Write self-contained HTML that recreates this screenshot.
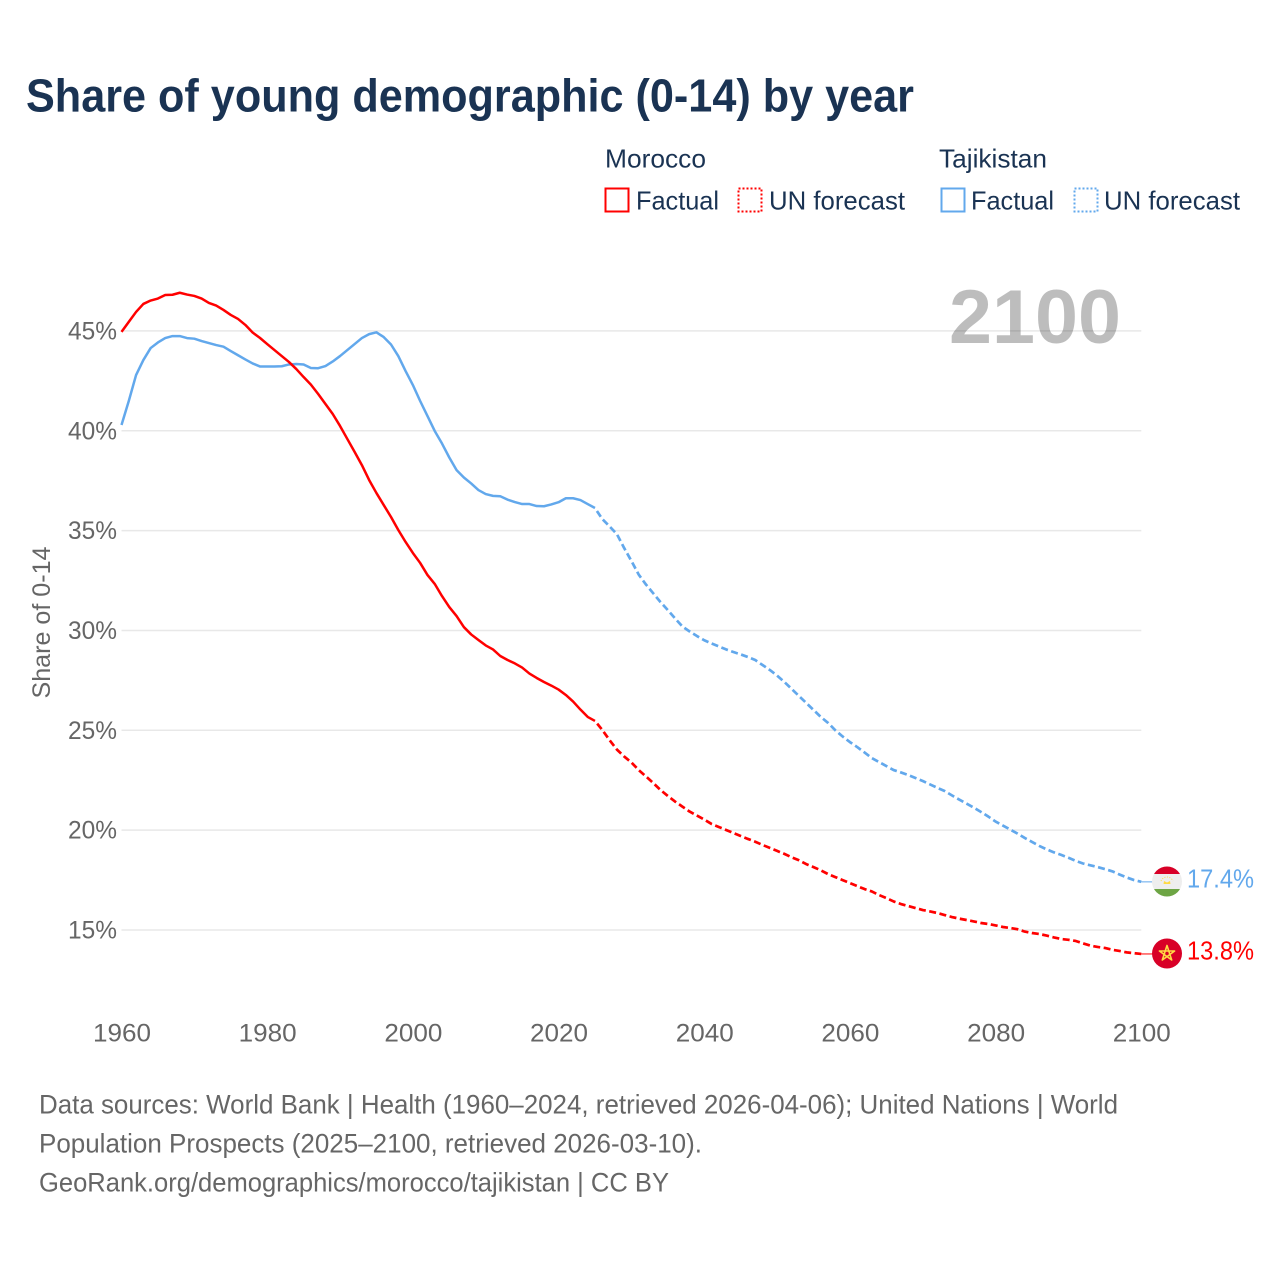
<!DOCTYPE html>
<html lang="en">
<head>
<meta charset="utf-8">
<title>Share of young demographic (0-14) by year</title>
<style>
  html, body { margin: 0; padding: 0; background: #fff; }
  svg { display: block; font-family: "Liberation Sans", sans-serif; }
</style>
</head>
<body>
<svg id="chart" xmlns="http://www.w3.org/2000/svg" width="1280" height="1280" viewBox="0 0 1280 1280">
  <rect x="0" y="0" width="1280" height="1280" fill="#fff"/>
  <text x="26" y="111.5" font-size="46" font-weight="700" fill="#1a3353" textLength="888" lengthAdjust="spacingAndGlyphs">Share of young demographic (0-14) by year</text>

  <g font-size="26" fill="#1a3353">
    <text x="605" y="167.5" textLength="101" lengthAdjust="spacingAndGlyphs">Morocco</text>
    <text x="939" y="167.5" textLength="108" lengthAdjust="spacingAndGlyphs">Tajikistan</text>
    <rect x="605.5" y="188.5" width="23" height="23" fill="none" stroke="#ff0000" stroke-width="2"/>
    <text x="636" y="209.5" textLength="83" lengthAdjust="spacingAndGlyphs">Factual</text>
    <rect x="738.5" y="188.5" width="23" height="23" fill="none" stroke="#ff0000" stroke-width="2" stroke-dasharray="2 2"/>
    <text x="769" y="209.5" textLength="136" lengthAdjust="spacingAndGlyphs">UN forecast</text>
    <rect x="941.5" y="188.5" width="23" height="23" fill="none" stroke="#62a8ec" stroke-width="2"/>
    <text x="971" y="209.5" textLength="83" lengthAdjust="spacingAndGlyphs">Factual</text>
    <rect x="1074.5" y="188.5" width="23" height="23" fill="none" stroke="#62a8ec" stroke-width="2" stroke-dasharray="2 2"/>
    <text x="1104" y="209.5" textLength="136" lengthAdjust="spacingAndGlyphs">UN forecast</text>
  </g>

  <g id="grid"></g>
  <g id="y-ticks" font-size="25" fill="#666"></g>
  <g id="x-ticks" font-size="25" fill="#666"></g>
  <text transform="translate(50,698.5) rotate(-90)" x="0" y="0" font-size="25" fill="#666" textLength="152" lengthAdjust="spacingAndGlyphs">Share of 0-14</text>

  <text x="949" y="343" font-size="76" font-weight="700" fill="#000" fill-opacity="0.26" textLength="172" lengthAdjust="spacingAndGlyphs">2100</text>

  <g id="series"></g>

  <g>
    <clipPath id="clip-tj"><circle cx="1167" cy="881.5" r="15"/></clipPath>
    <g clip-path="url(#clip-tj)">
      <rect x="1150" y="865" width="34" height="34" fill="#eeeeee"/>
      <rect x="1150" y="865" width="34" height="9" fill="#d80027"/>
      <rect x="1150" y="889" width="34" height="10" fill="#6da544"/>
      <path d="M1163.5 884 L1164 881 L1167 882.5 L1170 881 L1170.5 884 Z" fill="#ffda44"/>
      <path d="M1161 881 A6.5 6.5 0 0 1 1173 881" fill="none" stroke="#ffda44" stroke-width="1" stroke-dasharray="1 1.5"/>
    </g>
  </g>
  <g>
    <circle cx="1167" cy="953.5" r="15" fill="#d80027"/>
    <path d="M1167 945.5 L1171.7 960 L1159.4 951 L1174.6 951 L1162.3 960 Z" fill="none" stroke="#ffda44" stroke-width="1.6" stroke-linejoin="round"/>
  </g>

  <text x="1187" y="887.5" font-size="25.5" fill="#62a8ec" textLength="67" lengthAdjust="spacingAndGlyphs">17.4%</text>
  <text x="1187" y="959.5" font-size="25.5" fill="#ff0000" textLength="67" lengthAdjust="spacingAndGlyphs">13.8%</text>

  <g font-size="26.5" fill="#666">
    <text x="39" y="1113.5" textLength="1079" lengthAdjust="spacingAndGlyphs">Data sources: World Bank | Health (1960–2024, retrieved 2026-04-06); United Nations | World</text>
    <text x="39" y="1152.5" textLength="663" lengthAdjust="spacingAndGlyphs">Population Prospects (2025–2100, retrieved 2026-03-10).</text>
    <text x="39" y="1191.5" textLength="630" lengthAdjust="spacingAndGlyphs">GeoRank.org/demographics/morocco/tajikistan | CC BY</text>
  </g>
</svg>

<script>
const xTickYears = [1960, 1980, 2000, 2020, 2040, 2060, 2080, 2100];
const yTickValues = [15, 20, 25, 30, 35, 40, 45];

const factualStartYear = 1960;
const forecastStartYear = 2025;

const moroccoFactual = [
  44.95,45.45,45.95,46.35,46.52,46.62,46.80,46.81,46.91,46.82,
  46.75,46.62,46.40,46.27,46.05,45.80,45.60,45.30,44.92,44.65,
  44.34,44.04,43.74,43.44,43.09,42.69,42.31,41.84,41.34,40.84,
  40.24,39.59,38.94,38.28,37.53,36.88,36.28,35.68,35.03,34.43,
  33.88,33.38,32.78,32.33,31.72,31.17,30.72,30.17,29.80,29.52,
  29.25,29.05,28.72,28.52,28.35,28.14,27.84,27.62,27.42,27.24,
  27.04,26.77,26.44,26.04,25.67,25.47
];
const moroccoForecast = [
  25.47,25.02,24.51,24.04,23.69,23.39,23.01,22.69,22.36,22.01,
  21.71,21.43,21.18,20.93,20.73,20.53,20.31,20.16,20.01,19.86,
  19.71,19.56,19.42,19.26,19.11,18.96,18.81,18.64,18.49,18.30,
  18.15,17.99,17.80,17.65,17.50,17.35,17.20,17.05,16.93,16.75,
  16.60,16.43,16.30,16.20,16.10,16.00,15.93,15.85,15.75,15.65,
  15.57,15.50,15.43,15.35,15.30,15.23,15.15,15.10,15.04,14.92,
  14.85,14.80,14.72,14.63,14.55,14.51,14.45,14.33,14.22,14.15,
  14.10,14.01,13.95,13.88,13.84,13.80
];
const tajikistanFactual = [
  40.29,41.49,42.79,43.54,44.14,44.42,44.64,44.74,44.74,44.64,
  44.61,44.49,44.39,44.29,44.21,43.99,43.78,43.57,43.37,43.22,
  43.22,43.22,43.23,43.32,43.34,43.32,43.14,43.13,43.24,43.47,
  43.74,44.04,44.34,44.64,44.84,44.93,44.69,44.32,43.74,42.99,
  42.29,41.49,40.74,39.99,39.36,38.66,38.03,37.66,37.36,37.03,
  36.83,36.74,36.72,36.55,36.43,36.33,36.33,36.23,36.22,36.31,
  36.42,36.62,36.62,36.53,36.33,36.13
];
const tajikistanForecast = [
  36.13,35.58,35.21,34.83,34.13,33.48,32.80,32.30,31.86,31.42,
  31.02,30.60,30.20,29.95,29.72,29.51,29.35,29.20,29.05,28.92,
  28.80,28.67,28.52,28.27,28.02,27.74,27.42,27.07,26.72,26.37,
  26.02,25.67,25.37,25.00,24.69,24.41,24.16,23.89,23.61,23.41,
  23.21,23.01,22.89,22.76,22.61,22.46,22.29,22.12,21.96,21.74,
  21.53,21.33,21.13,20.91,20.68,20.43,20.23,20.03,19.83,19.61,
  19.41,19.21,19.04,18.89,18.76,18.62,18.46,18.33,18.24,18.15,
  18.05,17.94,17.78,17.63,17.50,17.41
];

const NS = 'http://www.w3.org/2000/svg';
function xScale(year) { return 121.5 + (year - 1960) * (1141.3 - 121.5) / 140; }
function yScale(value) { return 930 - (value - 15) * 19.97; }

const gridGroup = document.getElementById('grid');
const yTickGroup = document.getElementById('y-ticks');
const xTickGroup = document.getElementById('x-ticks');
const seriesGroup = document.getElementById('series');

yTickValues.forEach(function (v) {
  const line = document.createElementNS(NS, 'line');
  
  
  line.setAttribute('x1', xScale(1960));
  line.setAttribute('x2', xScale(2100));
  line.setAttribute('y1', yScale(v));
  line.setAttribute('y2', yScale(v));
  line.setAttribute('stroke', '#e8e8e8');
  line.setAttribute('stroke-width', '1.5');
  gridGroup.appendChild(line);

  const label = document.createElementNS(NS, 'text');
  
  
  label.setAttribute('x', 117);
  label.setAttribute('y', yScale(v) + 8.5);
  label.setAttribute('text-anchor', 'end');
  label.setAttribute('textLength', 49);
  label.setAttribute('lengthAdjust', 'spacingAndGlyphs');
  label.textContent = v + '%';
  yTickGroup.appendChild(label);
});

xTickYears.forEach(function (yr) {
  const label = document.createElementNS(NS, 'text');
  
  
  label.setAttribute('x', xScale(yr) + 0.5);
  label.setAttribute('y', 1041.5);
  label.setAttribute('text-anchor', 'middle');
  label.setAttribute('textLength', 58);
  label.setAttribute('lengthAdjust', 'spacingAndGlyphs');
  label.textContent = yr;
  xTickGroup.appendChild(label);
});

function buildPath(values, startYear) {
  return values.map(function (v, i) {
    return (i ? 'L' : 'M') + xScale(startYear + i).toFixed(2) + ' ' + yScale(v).toFixed(2);
  }).join(' ');
}

function addLine(name, values, startYear, color, dashed) {
  const path = document.createElementNS(NS, 'path');
  
  
  path.setAttribute('d', buildPath(values, startYear));
  path.setAttribute('fill', 'none');
  path.setAttribute('stroke', color);
  path.setAttribute('stroke-width', dashed ? '2.7' : '2.5');
  path.setAttribute('stroke-linejoin', 'round');
  if (dashed) {
    path.setAttribute('stroke-dasharray', '7 3.5');
    path.setAttribute('stroke-dashoffset', '7');
  }
  seriesGroup.appendChild(path);
}

function addLeader(name, value, color) {
  const leader = document.createElementNS(NS, 'line');
  
  
  leader.setAttribute('x1', xScale(2100));
  leader.setAttribute('x2', 1154);
  leader.setAttribute('y1', yScale(value));
  leader.setAttribute('y2', yScale(value));
  leader.setAttribute('stroke', color);
  leader.setAttribute('stroke-width', '1');
  seriesGroup.appendChild(leader);
}

addLine('line-tajikistan-factual', tajikistanFactual, factualStartYear, '#62a8ec', false);
addLine('line-tajikistan-forecast', tajikistanForecast, forecastStartYear, '#62a8ec', true);
addLine('line-morocco-factual', moroccoFactual, factualStartYear, '#ff0000', false);
addLine('line-morocco-forecast', moroccoForecast, forecastStartYear, '#ff0000', true);
addLeader('leader-tajikistan', tajikistanForecast[tajikistanForecast.length - 1], '#62a8ec');
addLeader('leader-morocco', moroccoForecast[moroccoForecast.length - 1], '#ff0000');
</script>
</body>
</html>
